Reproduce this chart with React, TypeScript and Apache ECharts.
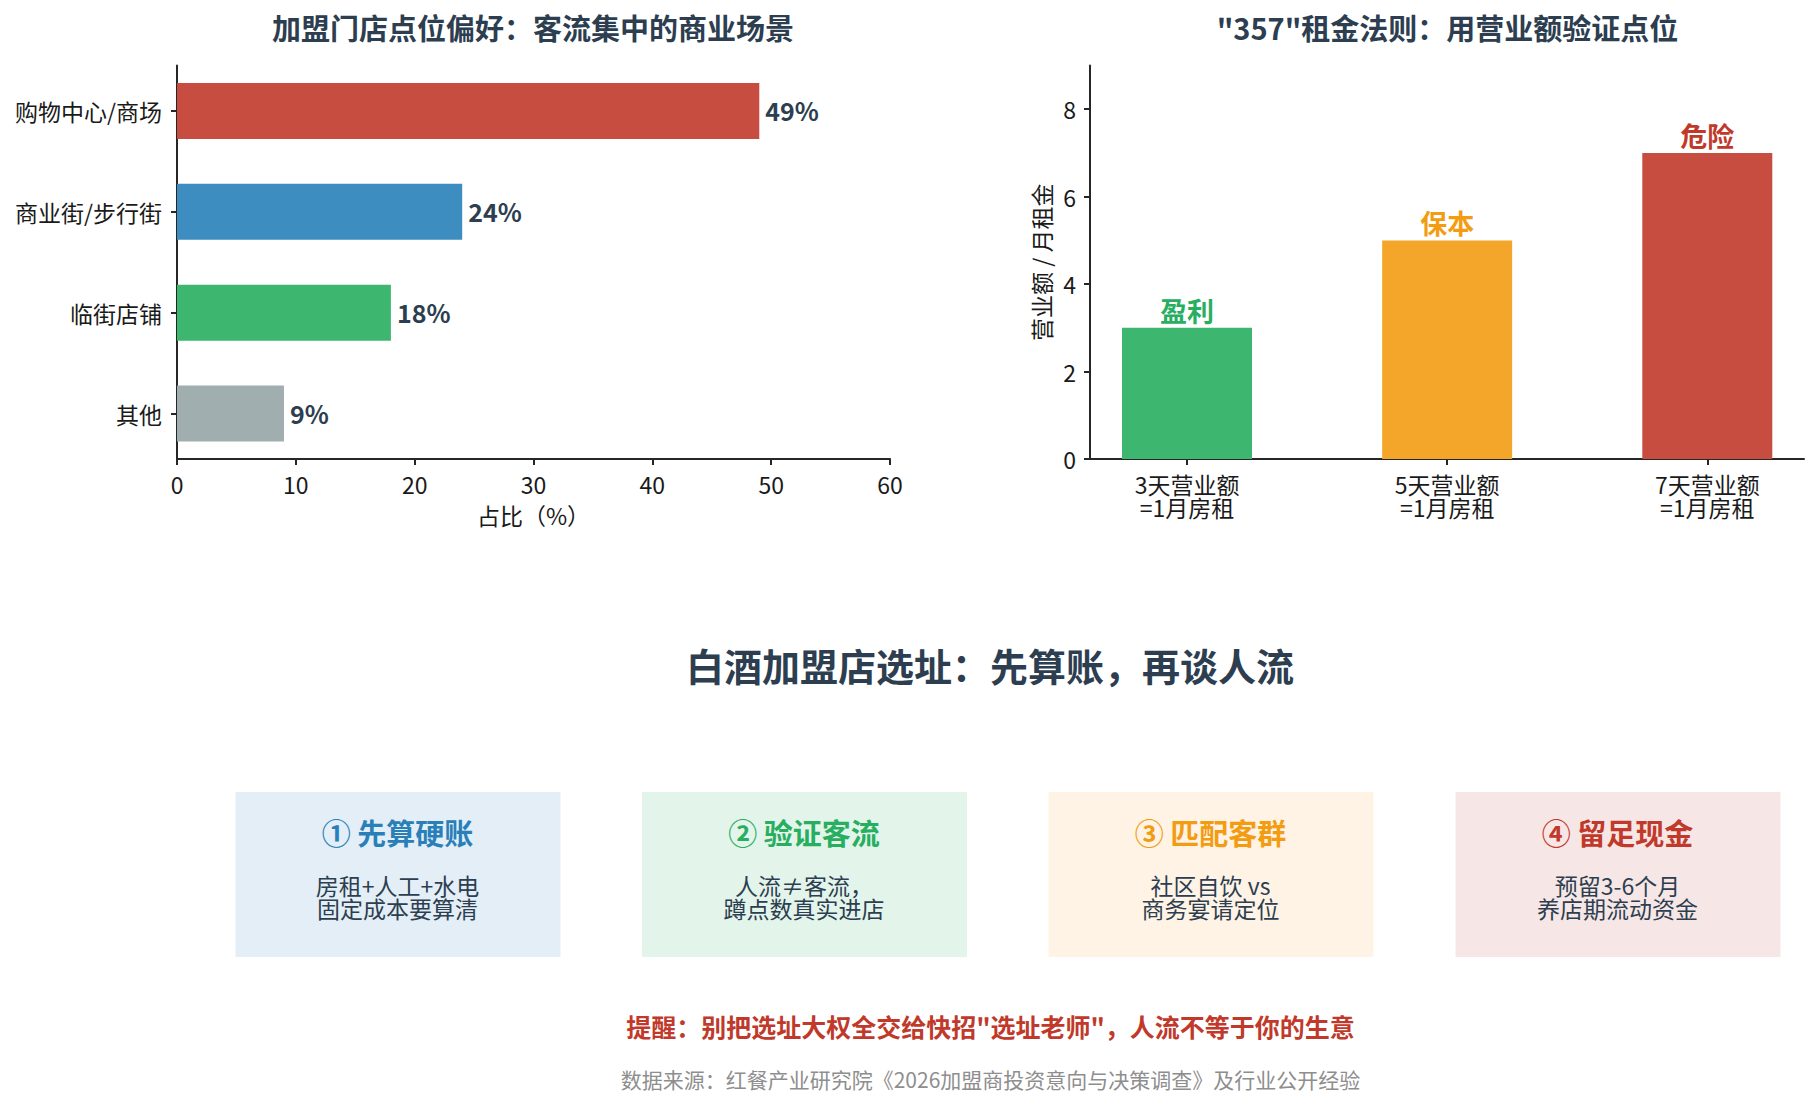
import React, { useEffect, useRef } from "react";
import * as echarts from "echarts";

const FONT = '"Noto Sans CJK SC", "Noto Sans", sans-serif';
const DARK = "#2C3E50";
const AXIS = "#262626";

const placeCategories = ["购物中心/商场", "商业街/步行街", "临街店铺", "其他"];
const placeShares = [49, 24, 18, 9];
const placeColors = ["#C64D40", "#3E8DC0", "#3DB670", "#A0AEAF"];
const shareTicksInterval = 10;
const shareMax = 60;

const rentCategories = ["3天营业额\n=1月房租", "5天营业额\n=1月房租", "7天营业额\n=1月房租"];
const rentRatios = [3, 5, 7];
const rentStatus = ["盈利", "保本", "危险"];
const rentColors = ["#3DB670", "#F4A62A", "#C64D40"];
const rentStatusColors = ["#27AE60", "#F39C12", "#C0392B"];
const rentTickLabels = [0, 2, 4, 6, 8];
const rentMax = 9;

const cardTitles = ["① 先算硬账", "② 验证客流", "③ 匹配客群", "④ 留足现金"];
const cardBodies = [
  "房租+人工+水电\n固定成本要算清",
  "人流≠客流，\n蹲点数真实进店",
  "社区自饮 vs\n商务宴请定位",
  "预留3-6个月\n养店期流动资金",
];
const cardColors = ["#2980B9", "#27AE60", "#F39C12", "#C0392B"];
const cardFills = ["#E3EEF6", "#E3F4EA", "#FEF3E5", "#F6E7E6"];
const cardLefts = [235.5, 642, 1048.5, 1455.5];

const mainTitle = "白酒加盟店选址：先算账，再谈人流";
const leftTitle = "加盟门店点位偏好：客流集中的商业场景";
const rightTitle = '"357"租金法则：用营业额验证点位';
const warning = '提醒：别把选址大权全交给快招"选址老师"，人流不等于你的生意';
const source = "数据来源：红餐产业研究院《2026加盟商投资意向与决策调查》及行业公开经验";

const tickLabel = { fontFamily: FONT, fontSize: 23, color: "#1a1a1a" };
const line = { lineStyle: { color: AXIS, width: 2 } };

function buildOption(): any {
  const cards: any[] = [];
  cardTitles.forEach((t, i) => {
    const l = cardLefts[i];
    cards.push({ type: "rect", shape: { x: l, y: 792, width: 325, height: 165 }, style: { fill: cardFills[i] } });
    cards.push({
      type: "text", x: l + 162, y: 832,
      style: { text: t, fontFamily: FONT, fontSize: 29, fontWeight: "bold", fill: cardColors[i], textAlign: "center", textVerticalAlign: "middle" },
    });
    cards.push({
      type: "text", x: l + 162, y: 896.5,
      style: { text: cardBodies[i], fontFamily: FONT, fontSize: 23, lineHeight: 23, fill: DARK, textAlign: "center", textVerticalAlign: "middle" },
    });
  });
  return {
    animation: false,
    backgroundColor: "#ffffff",
    title: [
      { text: leftTitle, left: 528, top: 7.5, textAlign: "center", textStyle: { fontFamily: FONT, fontSize: 29, fontWeight: "bold", color: DARK } },
      { text: rightTitle, left: 1442.5, top: 7.5, textAlign: "center", textStyle: { fontFamily: FONT, fontSize: 29, fontWeight: "bold", color: DARK } },
      { text: mainTitle, left: 985, top: 640, textAlign: "center", textStyle: { fontFamily: FONT, fontSize: 38, fontWeight: "bold", color: DARK } },
      { text: warning, left: 985.5, top: 1008, textAlign: "center", textStyle: { fontFamily: FONT, fontSize: 25, fontWeight: "bold", color: "#C0392B" } },
      { text: source, left: 985.5, top: 1063, textAlign: "center", textStyle: { fontFamily: FONT, fontSize: 21, fontWeight: "normal", color: "#8E8E8E" } },
    ],
    grid: [
      { left: 177, top: 65.5, width: 713, height: 393.5 },
      { left: 177, top: 60.5, width: 713, height: 403.5 },
      { left: 1090, top: 65.5, width: 714, height: 393.5 },
      { left: 1187, top: 65.5, width: 520.3, height: 393.5 },
    ],
    xAxis: [
      {
        gridIndex: 0, type: "value", min: 0, max: shareMax, interval: shareTicksInterval, splitLine: { show: false },
        axisLine: { show: true, onZero: false, ...line }, axisTick: { show: true, length: 6, ...line },
        axisLabel: { ...tickLabel, margin: 13 },
        name: "占比（%）", nameLocation: "middle", nameGap: 44, nameTextStyle: tickLabel,
      },
      { gridIndex: 1, type: "value", min: 0, max: shareMax, show: false, splitLine: { show: false } },
      {
        gridIndex: 2, type: "value", min: 0, max: 1, splitLine: { show: false },
        axisLine: { show: true, onZero: false, ...line }, axisTick: { show: false }, axisLabel: { show: false },
      },
      {
        gridIndex: 3, type: "category", boundaryGap: false, data: rentCategories,
        axisLine: { show: false }, axisTick: { show: true, length: 6, ...line },
        axisLabel: { ...tickLabel, lineHeight: 23, margin: 13, interval: 0 },
      },
    ],
    yAxis: [
      {
        gridIndex: 0, type: "value", min: 0, max: 1, splitLine: { show: false },
        axisLine: { show: true, onZero: false, ...line }, axisTick: { show: false }, axisLabel: { show: false },
      },
      {
        gridIndex: 1, type: "category", inverse: true, data: placeCategories,
        axisLine: { show: false }, axisTick: { show: true, alignWithLabel: true, length: 6, ...line },
        axisLabel: { ...tickLabel, margin: 15, interval: 0 },
      },
      {
        gridIndex: 2, type: "value", min: 0, max: rentMax, splitLine: { show: false },
        axisLine: { show: true, onZero: false, ...line },
        axisTick: { show: true, length: 6, customValues: rentTickLabels, ...line },
        axisLabel: { ...tickLabel, margin: 14, customValues: rentTickLabels },
        name: "营业额 / 月租金", nameLocation: "middle", nameGap: 38, nameTextStyle: tickLabel,
      },
      { gridIndex: 3, type: "value", min: 0, max: rentMax, show: false, splitLine: { show: false } },
    ],
    series: [
      {
        type: "bar", xAxisIndex: 1, yAxisIndex: 1, barWidth: 56,
        data: placeShares.map((v, i) => ({ value: v, itemStyle: { color: placeColors[i] } })),
        label: { show: true, position: "right", distance: 6, offset: [0, -1], formatter: "{c}%", fontFamily: FONT, fontSize: 25, fontWeight: "bold", color: DARK },
      },
      {
        type: "bar", xAxisIndex: 3, yAxisIndex: 3, barWidth: 130, clip: false,
        data: rentRatios.map((v, i) => ({
          value: v,
          itemStyle: { color: rentColors[i] },
          label: { formatter: rentStatus[i], color: rentStatusColors[i] },
        })),
        label: { show: true, position: "top", distance: 4, fontFamily: FONT, fontSize: 27, fontWeight: "bold" },
      },
    ],
    graphic: { elements: cards },
  };
}

export default function App() {
  const ref = useRef<HTMLDivElement>(null);
  useEffect(() => {
    document.body.style.margin = "0";
    const chart = echarts.init(ref.current!, null, { renderer: "svg" });
    chart.setOption(buildOption());
    return () => chart.dispose();
  }, []);
  return <div ref={ref} style={{ width: 1819, height: 1120 }} />;
}
